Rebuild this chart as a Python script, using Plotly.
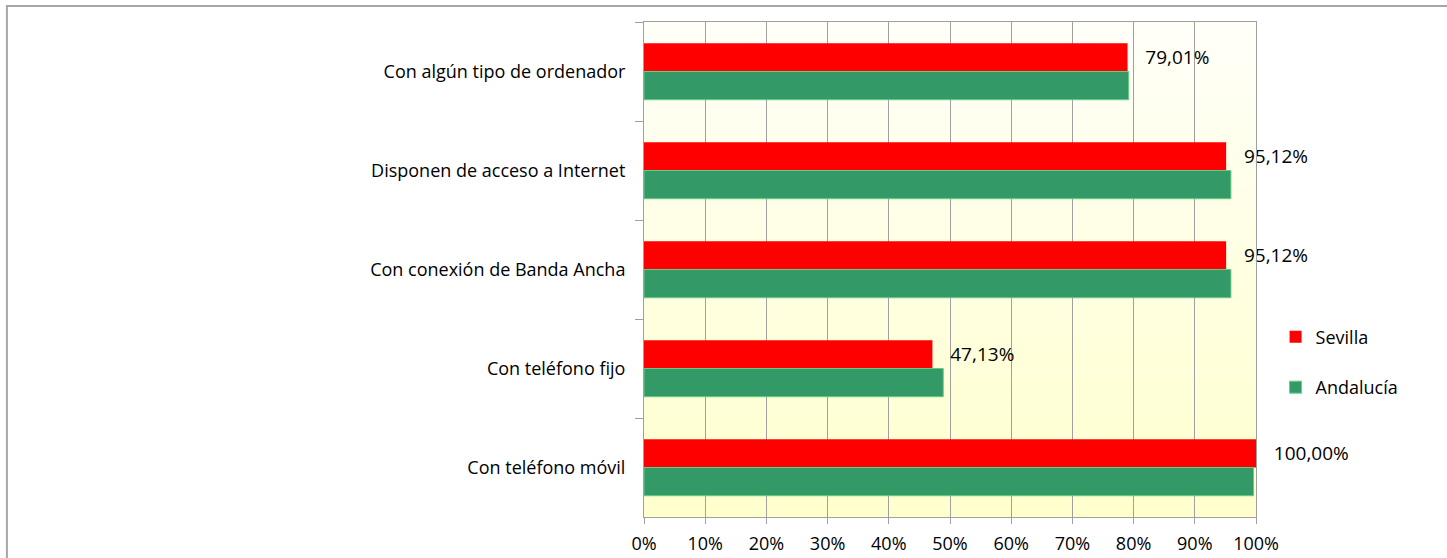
import plotly.graph_objects as go

# Categories, top to bottom as shown
categories = [
    'Con algún tipo de ordenador',
    'Disponen de acceso a Internet',
    'Con conexión de Banda Ancha',
    'Con teléfono fijo',
    'Con teléfono móvil',
]
sevilla = [79.01, 95.12, 95.12, 47.13, 100.00]
andalucia = [79.2, 95.9, 95.9, 48.9, 99.6]
x_ticks = [0, 10, 20, 30, 40, 50, 60, 70, 80, 90, 100]
x_tick_labels = [f'{t}%' for t in x_ticks]

FONT = 'Open Sans, Liberation Sans, Arial, sans-serif'
FS = 18
GRID = '#a0a0a0'

sevilla_text = ['\u00a0\u00a0\u00a0' + f'{v:.2f}'.replace('.', ',') + '%' for v in sevilla]

fig = go.Figure()
fig.add_trace(go.Bar(
    y=categories, x=sevilla, name='Sevilla', orientation='h',
    marker=dict(color='#ff0000', line=dict(width=0)),
    text=sevilla_text, textposition='outside', cliponaxis=False,
    textfont=dict(family=FONT, size=19, color='#000000'),
    legendgroup='s',
))
fig.add_trace(go.Bar(
    y=categories, x=andalucia, name='Andalucía', orientation='h',
    marker=dict(color='#339966', line=dict(width=1, color='#66cc88')),
    legendgroup='a',
))

# vertical gradient in the plot area (white-ish at top, pale yellow at bottom)
shapes = []
n = 60
for i in range(n):
    f = i / (n - 1)
    b = int(round(0xF8 + (0xCC - 0xF8) * f))
    shapes.append(dict(
        type='rect', xref='x domain', yref='y domain',
        x0=0, x1=1, y0=1 - (i + 1) / n, y1=1 - i / n,
        fillcolor=f'rgb(255,255,{b})', line=dict(width=0), layer='below',
    ))
# outer chart frame
shapes.append(dict(
    type='rect', xref='paper', yref='paper',
    x0=-1.041, x1=1.4, y0=-0.2, y1=1.0323,
    line=dict(color='#a6a6a6', width=2), fillcolor='rgba(0,0,0,0)', layer='below',
))

fig.update_layout(
    width=1447, height=558,
    margin=dict(l=644, r=191, t=22, b=41, autoexpand=False),
    paper_bgcolor='white', plot_bgcolor='rgba(0,0,0,0)',
    barmode='group', bargap=0.43, bargroupgap=0,
    font=dict(family=FONT, size=FS, color='#000000'),
    shapes=shapes,
    showlegend=True,
    legend=dict(
        x=1.032, y=0.313, xanchor='left', yanchor='middle',
        traceorder='grouped', tracegroupgap=24, itemwidth=30,
        font=dict(family=FONT, size=FS, color='#000000'),
        bgcolor='rgba(0,0,0,0)',
    ),
)
fig.update_xaxes(
    range=[0, 100], tickvals=x_ticks, ticktext=x_tick_labels,
    showgrid=True, gridcolor=GRID, gridwidth=1,
    showline=True, linecolor=GRID, linewidth=1, mirror=True,
    ticks='outside', ticklen=6, tickcolor=GRID, ticklabelstandoff=4,
    zeroline=False, fixedrange=True, automargin=False,
)
fig.update_yaxes(
    autorange='reversed', type='category',
    showgrid=False, showline=True, linecolor=GRID, linewidth=1, mirror=True,
    ticks='outside', ticklen=8, tickcolor=GRID, tickson='boundaries',
    ticklabelstandoff=14, fixedrange=True, automargin=False,
)

fig.write_html('out.html', config={'displayModeBar': False},
               post_script="document.body.style.margin='0';")
